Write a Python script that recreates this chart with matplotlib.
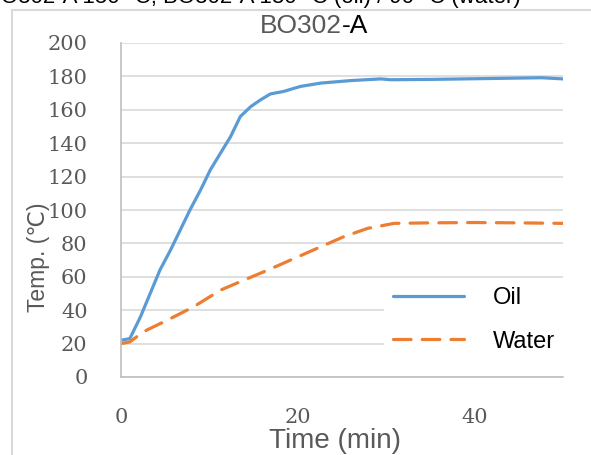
import matplotlib
matplotlib.use("Agg")
import matplotlib.pyplot as plt
from matplotlib.lines import Line2D

# data
oil_t = [0, 1.0, 2.2, 3.3, 4.4, 5.6, 6.7, 7.8, 9.0, 10.1, 11.25, 12.4, 13.5, 14.7,
         15.8, 16.9, 18.4, 20.3, 22.6, 26.0, 29.4, 30.5, 35.0, 40.0, 45.0, 47.6, 50.0]
oil_T = [22, 23, 36, 50, 64, 76, 88, 100, 112, 124, 134, 144, 156, 162,
         166, 169.5, 171, 174, 176, 177.5, 178.5, 178, 178.2, 178.6, 179, 179.2, 178.5]

water_t = [0, 1.0, 2.5, 5.6, 8.2, 11.25, 13.9, 16.6, 19.6, 22.6, 25.2, 27.9, 30.9,
           35.0, 40.0, 45.0, 50.0]
water_T = [20, 21, 27, 35, 42, 52, 58, 64, 71, 78, 84, 89, 92,
           92.3, 92.5, 92.3, 92.0]

y_ticks = [0, 20, 40, 60, 80, 100, 120, 140, 160, 180, 200]
x_ticks = [0, 20, 40]

blue = "#5B9BD5"
orange = "#ED7D31"
grey_txt = "#595959"

fig = plt.figure(figsize=(5.91, 4.55), dpi=100)
ax = fig.add_axes([121 / 591, 1 - 377 / 455, (563 - 121) / 591, (377 - 43) / 455])

ax.plot(oil_t, oil_T, color=blue, lw=2.3, label="Oil", solid_capstyle="round")
ax.plot(water_t, water_T, color=orange, lw=2.3, label="Water",
        dashes=(5.5, 3.5), dash_capstyle="round")

ax.set_xlim(0, 50)
ax.set_ylim(0, 200)
ax.set_yticks(y_ticks)
ax.set_xticks(x_ticks)
ax.grid(axis="y", color="#D9D9D9", lw=1.2)
ax.set_axisbelow(True)
for s in ["top", "right"]:
    ax.spines[s].set_visible(False)
for s in ["left", "bottom"]:
    ax.spines[s].set_color("#BFBFBF")
    ax.spines[s].set_linewidth(1.2)
ax.tick_params(length=0, labelsize=15, labelcolor=grey_txt)
ax.tick_params(axis="y", pad=24)
ax.tick_params(axis="x", pad=22)
for lab in ax.get_xticklabels() + ax.get_yticklabels():
    lab.set_family("DejaVu Serif")

sans = ["Liberation Sans", "DejaVu Sans"]
ax.text(0.5, 1.052, "BO302", transform=ax.transAxes, ha="right", va="center",
        fontsize=19, color=grey_txt, family=sans)
ax.text(0.5, 1.052, "-A", transform=ax.transAxes, ha="left", va="center",
        fontsize=19, color="black", family=sans)

fig.text(335 / 591, 1 - 441 / 455, "Time (min)", ha="center", va="center",
         fontsize=20, color=grey_txt, family=sans)
fig.text(39 / 591, 1 - 257 / 455, "Temp. (℃)", ha="center", va="center",
         rotation=90, fontsize=16.5, color=grey_txt, family=sans)

leg = ax.legend(loc="upper left", bbox_to_anchor=(372 / 591, 1 - 266 / 455),
                bbox_transform=fig.transFigure, frameon=True, framealpha=1,
                edgecolor="none", handlelength=3.0,
                labelspacing=0.9, handletextpad=1.2, borderpad=0.4,
                prop={"family": sans, "size": 17})
leg.get_frame().set_linewidth(0)

# clipped caption at the very top and the frame of the source figure
fig.text(-14 / 591, 1 - 3 / 455, "BO302-A 150 °C; BO302-A 180 °C (oil) / 90 °C (water)",
         ha="left", va="baseline", fontsize=16, color="black", family=sans)
fig.add_artist(Line2D([12 / 591, 12 / 591], [0, 1 - 10 / 455], color="#D9D9D9",
                      lw=1.5, transform=fig.transFigure))
fig.add_artist(Line2D([12 / 591, 1], [1 - 10 / 455, 1 - 10 / 455], color="#D9D9D9",
                      lw=1.5, transform=fig.transFigure))

fig.savefig("out.png", dpi=100)
